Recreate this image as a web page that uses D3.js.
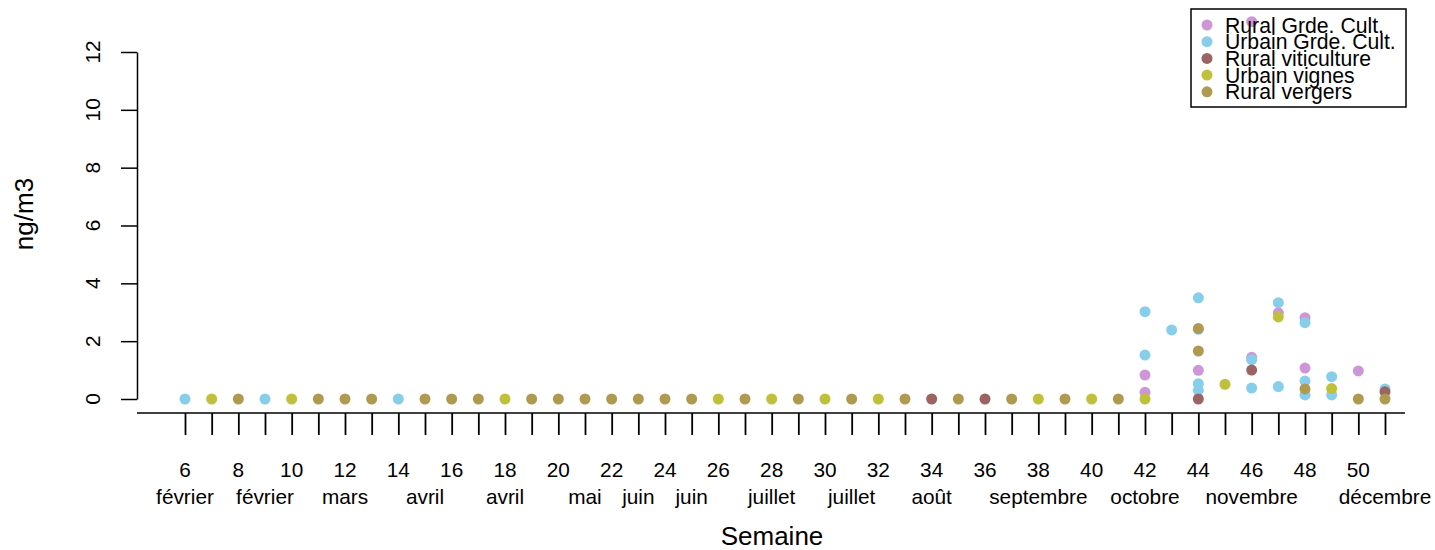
<!DOCTYPE html>
<html>
<head>
<meta charset="utf-8">
<script src="https://cdn.jsdelivr.net/npm/d3@7"></script>
<style>
  html, body { margin: 0; padding: 0; background: #fff; }
  svg { display: block; font-family: "Liberation Sans", Arial, Helvetica, sans-serif; }
</style>
</head>
<body>
<svg id="chart" width="1435" height="550"></svg>
<script>
// ---------------- DATA ----------------
const seriesNames = ["Rural Grde. Cult.", "Urbain Grde. Cult.", "Rural viticulture", "Urbain vignes", "Rural vergers"];
const seriesColors = ["#CD96D6", "#87CEEB", "#9B6462", "#C0C13A", "#B09A4F"];

// [semaine, ng/m3]
const ruralGrdeCult = [
  [42, 0.83], [42, 0.23], [44, 0.99], [46, 13.05], [46, 1.44],
  [47, 2.98], [48, 2.81], [48, 1.07], [50, 0.97]
];
const urbainGrdeCult = [
  [6, 0], [9, 0], [14, 0],
  [42, 3.02], [42, 1.52], [43, 2.39], [44, 3.50], [44, 2.41], [44, 0.53], [44, 0.30],
  [46, 1.36], [46, 0.38], [47, 3.33], [47, 0.43], [48, 2.64], [48, 0.62], [48, 0.14],
  [49, 0.77], [49, 0.14], [51, 0.35]
];
const ruralViticulture = [
  [34, 0], [36, 0], [44, 0], [46, 1.00], [51, 0.25]
];
const urbainVignes = [
  [7, 0], [10, 0], [18, 0], [26, 0], [28, 0], [30, 0], [32, 0], [38, 0], [40, 0],
  [42, 0], [45, 0.51], [47, 2.84], [49, 0.36]
];
const ruralVergers = [
  [8, 0], [11, 0], [12, 0], [13, 0], [15, 0], [16, 0], [17, 0], [19, 0], [20, 0],
  [21, 0], [22, 0], [23, 0], [24, 0], [25, 0], [27, 0], [29, 0], [31, 0], [33, 0],
  [35, 0], [37, 0], [39, 0], [41, 0], [44, 2.44], [44, 1.66], [48, 0.35], [50, 0], [51, 0]
];
const allSeries = [ruralGrdeCult, urbainGrdeCult, ruralViticulture, urbainVignes, ruralVergers];

// Axis ticks and labels
const weekTicks = [6,7,8,9,10,11,12,13,14,15,16,17,18,19,20,21,22,23,24,25,26,27,28,29,
                   30,31,32,33,34,35,36,37,38,39,40,41,42,43,44,45,46,47,48,49,50,51];
const weekNumberLabels = [6,8,10,12,14,16,18,20,22,24,26,28,30,32,34,36,38,40,42,44,46,48,50];
const monthLabelWeeks = [6, 9, 12, 15, 18, 21, 23, 25, 28, 31, 34, 38, 42, 46, 51];
const monthLabels = ["février","février","mars","avril","avril","mai","juin","juin",
                     "juillet","juillet","août","septembre","octobre","novembre","décembre"];
const yTicks = [0, 2, 4, 6, 8, 10, 12];
const xTitle = "Semaine";
const yTitle = "ng/m3";

// ---------------- DRAW ----------------
const svg = d3.select("#chart");
const x = d3.scaleLinear().domain([6, 51]).range([185, 1385]);
const y = d3.scaleLinear().domain([0, 12]).range([399, 52]);

const tickFont = 20.8, titleFont = 26, legendFont = 21.2;
const axisX = 137, baseY = 413;

// Y axis
const yAxis = d3.axisLeft(y).tickValues(yTicks).tickSize(16).tickSizeOuter(0).tickFormat("");
const gy = svg.append("g").attr("transform", `translate(${axisX},0)`).call(yAxis);
gy.selectAll("path.domain").attr("stroke", "#000").attr("stroke-width", 1.5);
gy.selectAll(".tick line").attr("stroke", "#000").attr("stroke-width", 1.5);
svg.append("g").selectAll("text").data(yTicks).join("text")
  .attr("transform", d => `translate(100,${y(d)}) rotate(-90)`)
  .attr("text-anchor", "middle")
  .attr("font-size", tickFont)
  .text(d => d);

// X base line
svg.append("line").attr("x1", axisX).attr("x2", 1405).attr("y1", baseY).attr("y2", baseY)
  .attr("stroke", "#000").attr("stroke-width", 1.5);

// X ticks
const xAxis = d3.axisBottom(x).tickValues(weekTicks).tickSize(22).tickSizeOuter(0).tickFormat("");
const gx = svg.append("g").attr("transform", `translate(0,${baseY})`).call(xAxis);
gx.select("path.domain").remove();
gx.selectAll(".tick line").attr("stroke", "#000").attr("stroke-width", 1.8);

svg.append("g").selectAll("text").data(weekNumberLabels).join("text")
  .attr("x", d => x(d)).attr("y", 476.5)
  .attr("text-anchor", "middle").attr("font-size", tickFont)
  .text(d => d);

svg.append("g").selectAll("text").data(monthLabelWeeks).join("text")
  .attr("x", d => x(d)).attr("y", 504)
  .attr("text-anchor", "middle").attr("font-size", tickFont)
  .text((d, i) => monthLabels[i]);

// Titles
svg.append("text").attr("x", 772).attr("y", 545).attr("text-anchor", "middle")
  .attr("font-size", titleFont).text(xTitle);
svg.append("text").attr("transform", "translate(33,214) rotate(-90)").attr("text-anchor", "middle")
  .attr("font-size", titleFont).text(yTitle);

// Points
allSeries.forEach((s, i) => {
  svg.append("g").selectAll("circle").data(s).join("circle")
    .attr("cx", d => x(d[0])).attr("cy", d => y(d[1])).attr("r", 5.5)
    .attr("fill", seriesColors[i]);
});

// Legend
const lg = svg.append("g");
lg.append("rect").attr("x", 1191).attr("y", 9).attr("width", 215).attr("height", 98)
  .attr("fill", "none").attr("stroke", "#000").attr("stroke-width", 1.5);
seriesNames.forEach((name, i) => {
  const ry = 25 + i * 16.7;
  lg.append("circle").attr("cx", 1207).attr("cy", ry).attr("r", 5.5).attr("fill", seriesColors[i]);
  lg.append("text").attr("x", 1225).attr("y", ry + 7.5).attr("font-size", legendFont).text(name);
});
</script>
</body>
</html>
